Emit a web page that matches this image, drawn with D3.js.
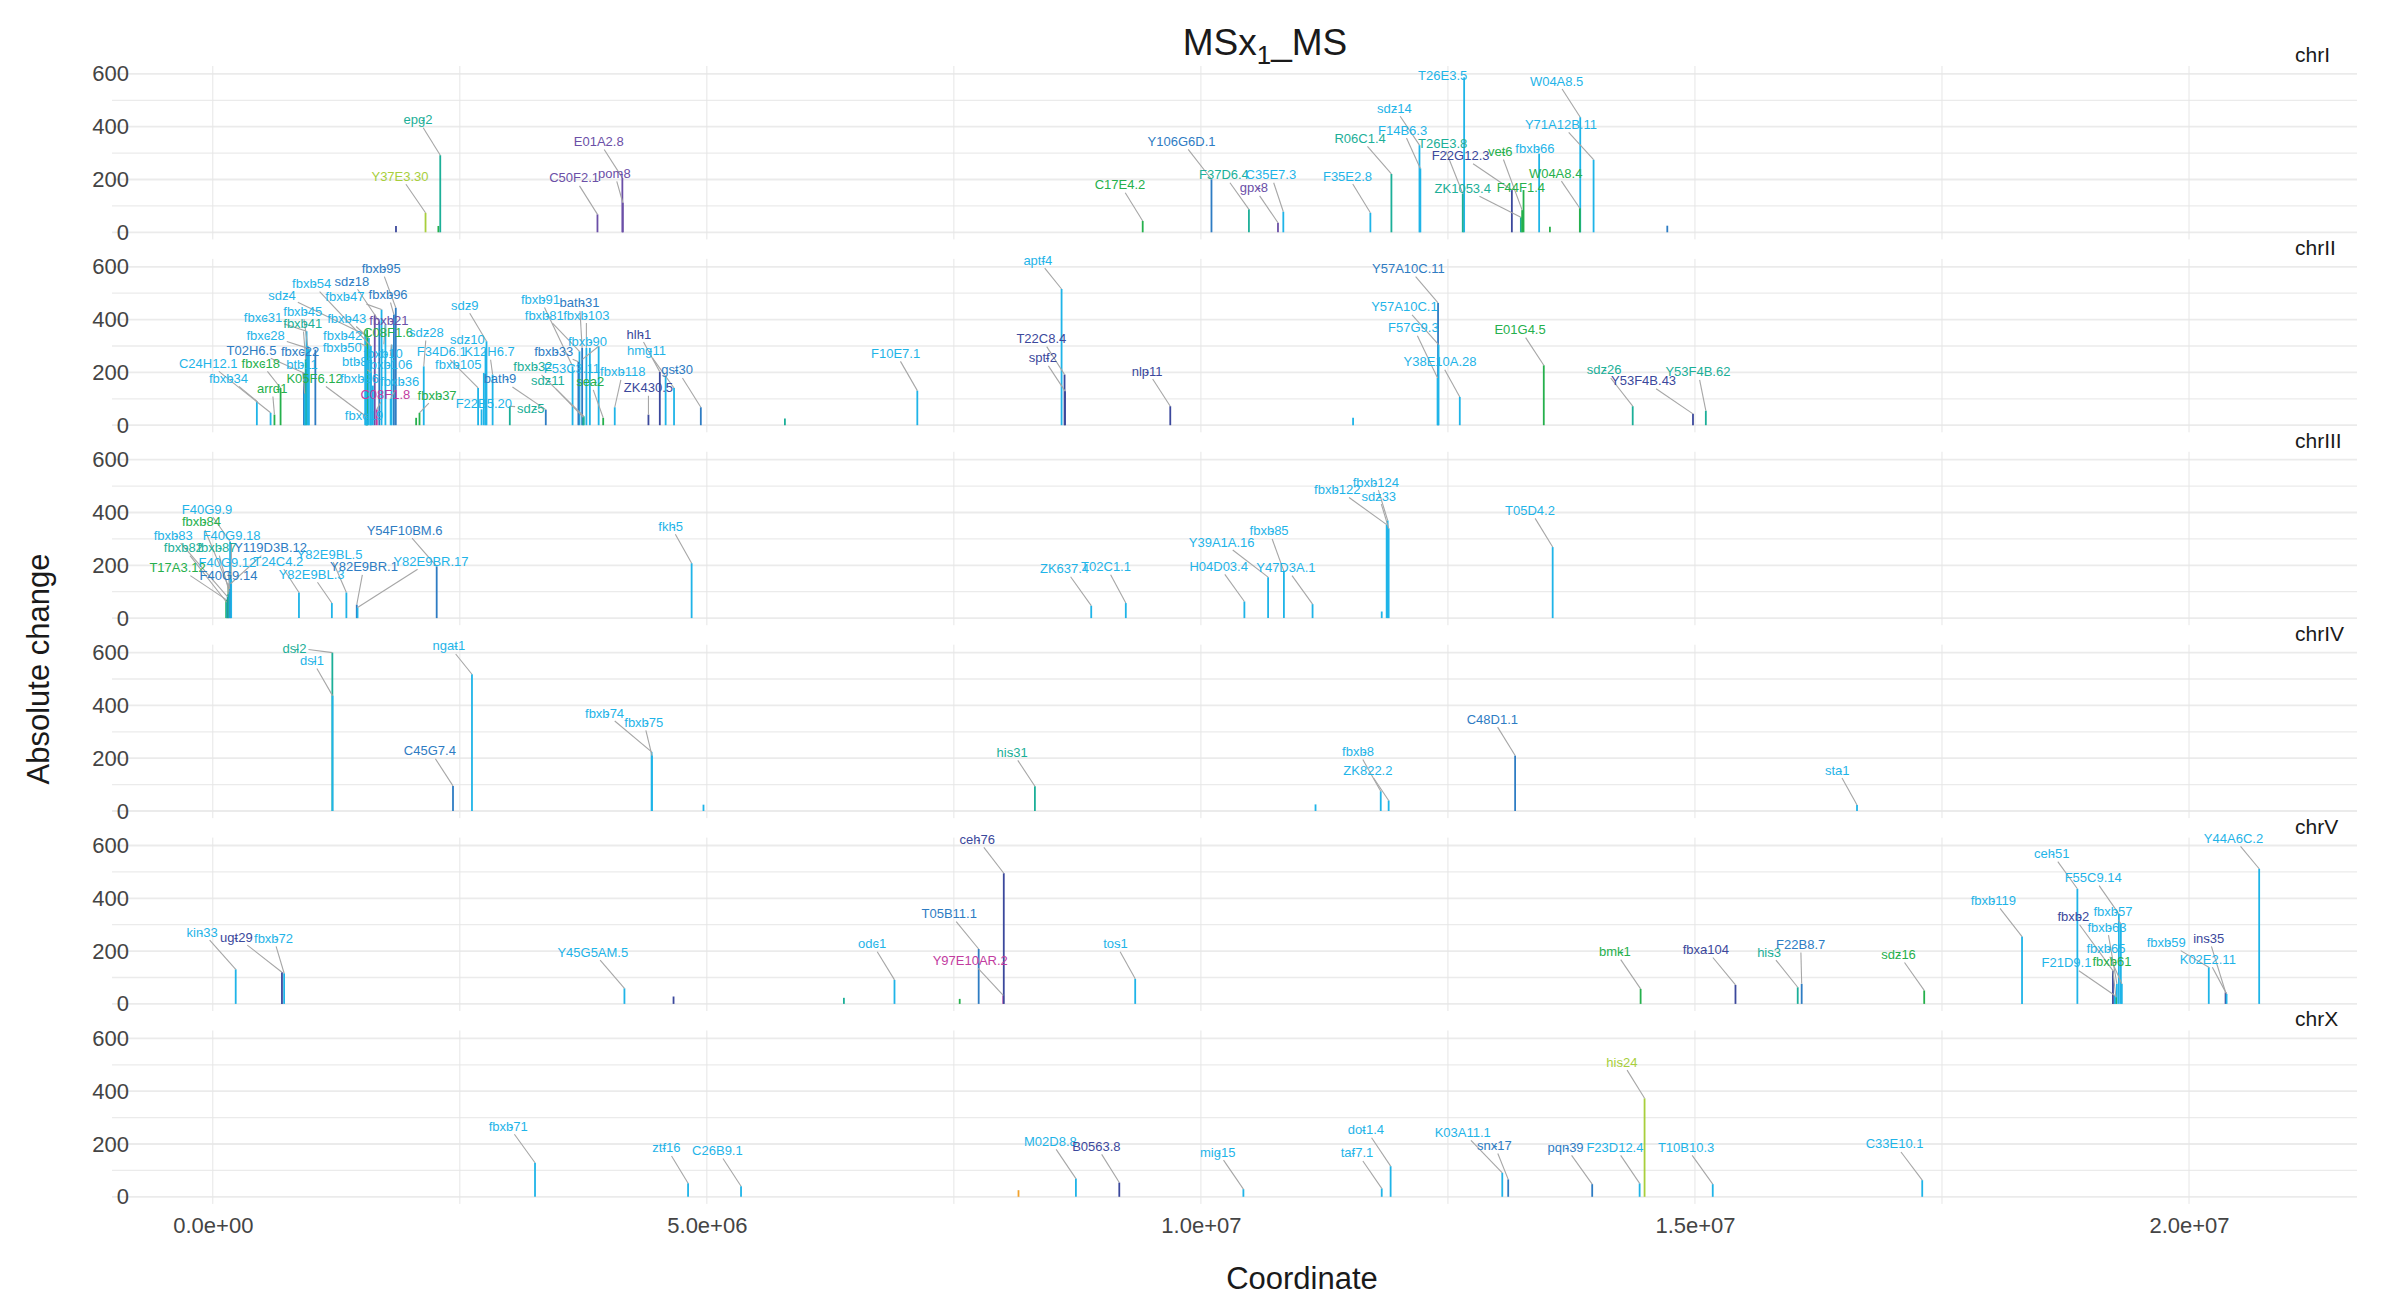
<!DOCTYPE html>
<html>
<head>
<meta charset="utf-8">
<script src="https://cdnjs.cloudflare.com/ajax/libs/d3/7.8.5/d3.min.js"></script>
<style>
    body { margin: 0; background: #fff; }
    text { font-family: "Liberation Sans", Arial, Helvetica, sans-serif; }
</style>
</head>
<body>
<div id="chart"></div>
<script>

    // rows: [gene, coordinate, absolute change, colour group]
    // label rows: [label coordinate, label change] or null (unlabelled)
    var chromosomes = ["chrI", "chrII", "chrIII", "chrIV", "chrV", "chrX"];
    var yTicks = [0, 200, 400, 600];
    var xTicks = [0, 5e6, 1e7, 1.5e7, 2e7];

    var chrI = [
        ["", 1854000, 24, "n"], ["Y37E3.30", 2153000, 74, "y"], ["", 2283000, 24, "g"],
        ["epg-2", 2302000, 292, "t"], ["C50F2.1", 3893000, 68, "p"], ["E01A2.8", 4145000, 206, "p"],
        ["pom-8", 4150000, 112, "p"], ["C17E4.2", 9411000, 43, "g"], ["Y106G6D.1", 10107000, 201, "b"],
        ["F37D6.4", 10486000, 87, "t"], ["gpx-8", 10780000, 36, "p"], ["C35E7.3", 10834000, 78, "c"],
        ["F35E2.8", 11715000, 74, "c"], ["R06C1.4", 11928000, 221, "t"], ["sdz-14", 12212000, 330, "c"],
        ["F14B6.3", 12221000, 242, "c"], ["T26E3.5", 12664000, 587, "c"], ["T26E3.8", 12650000, 147, "t"],
        ["F22G12.3", 13147000, 160, "n"], ["ZK1053.4", 13238000, 57, "t"], ["vet-6", 13251000, 84, "g"],
        ["F44F1.4", 13265000, 160, "g"], ["fbxb-66", 13423000, 298, "c"], ["", 13532000, 21, "g"],
        ["W04A8.5", 13839000, 436, "c"], ["W04A8.4", 13835000, 91, "g"], ["Y71A12B.11", 13974000, 275, "c"],
        ["", 14720000, 25, "b"]
    ];
    var chrI_labels = [
        null, [1895000, 214], null,
        [2076000, 428], [3657000, 208], [3906000, 346],
        [4064000, 225], [9181000, 182], [9804000, 346],
        [10233000, 220], [10536000, 170], [10708000, 220],
        [11484000, 215], [11611000, 358], [11959000, 472],
        [12041000, 389], [12447000, 596], [12447000, 338],
        [12628000, 292], [12650000, 169], [13030000, 308],
        [13238000, 172], [13380000, 319], null,
        [13600000, 575], [13590000, 226], [13644000, 411],
        null
    ];

    var chrII = [
        ["fbxb-34", 446000, 91, "c"], ["C24H12.1", 585000, 47, "c"], ["arrd-1", 624000, 40, "g"],
        ["fbxc-18", 686000, 141, "g"], ["T02H6.5", 922000, 198, "b"], ["fbxc-31", 949000, 356, "c"],
        ["fbxc-28", 973000, 290, "c"], ["fbxb-45", 960000, 300, "c"], ["fbxb-41", 940000, 250, "t"],
        ["fbxc-22", 1038000, 286, "b"], ["btb-11", 930000, 120, "c"], ["K05F6.12", 1562000, 30, "g"],
        ["sdz-4", 1542000, 343, "c"], ["fbxb-54", 1600000, 300, "c"], ["fbxb-21", 1639000, 419, "p"],
        ["sdz-18", 1685000, 393, "b"], ["fbxb-47", 1708000, 438, "c"], ["fbxb-95", 1852000, 445, "b"],
        ["fbxb-96", 1833000, 419, "b"], ["C08F1.6", 1562000, 362, "g"], ["fbxb-43", 1580000, 330, "c"],
        ["fbxb-42", 1550000, 300, "c"], ["fbxb-50", 1555000, 260, "c"], ["fbxb-10", 1747000, 381, "c"],
        ["btb-8", 1600000, 200, "c"], ["fbxb-106", 1810000, 305, "c"], ["fbxb-26", 1620000, 150, "c"],
        ["fbxb-36", 1800000, 100, "c"], ["C08F1.8", 1660000, 60, "m"], ["fbxc-19", 1560000, 20, "c"],
        ["", 2058000, 28, "g"], ["fbxb-37", 2092000, 47, "g"], ["sdz-28", 2135000, 223, "c"],
        ["F34D6.1", 2685000, 141, "c"], ["fbxb-105", 2743000, 198, "c"], ["sdz-9", 2770000, 318, "c"],
        ["sdz-10", 2760000, 290, "c"], ["K12H6.7", 2832000, 192, "c"], ["F22B5.20", 2720000, 60, "c"],
        ["sdz-5", 3006000, 72, "t"], ["bath-9", 3370000, 59, "b"], ["fbxb-91", 3641000, 223, "c"],
        ["fbxb-81", 3711000, 280, "c"], ["bath-31", 3738000, 293, "b"], ["fbxb-103", 3781000, 293, "c"],
        ["fbxb-90", 3816000, 293, "c"], ["fbxb-33", 3700000, 240, "b"], ["fbxb-32", 3754000, 34, "t"],
        ["F53C3.11", 3905000, 299, "c"], ["sdz-11", 3750000, 30, "t"], ["sea-2", 3951000, 28, "g"],
        ["fbxb-118", 4068000, 68, "c"], ["ZK430.5", 4409000, 40, "n"], ["hlh-1", 4524000, 202, "n"],
        ["", 4583000, 185, "c"], ["hmg-11", 4668000, 141, "c"], ["gst-30", 4939000, 68, "b"],
        ["", 5790000, 25, "t"], ["F10E7.1", 7130000, 131, "c"], ["aptf-4", 8590000, 516, "c"],
        ["T22C8.4", 8620000, 192, "n"], ["sptf-2", 8625000, 129, "n"], ["nlp-11", 9690000, 72, "n"],
        ["", 11540000, 28, "c"], ["Y57A10C.11", 12400000, 463, "b"], ["Y57A10C.1", 12405000, 305, "c"],
        ["F57G9.3", 12395000, 179, "c"], ["Y38E10A.28", 12620000, 107, "c"], ["E01G4.5", 13470000, 227, "g"],
        ["sdz-26", 14370000, 72, "t"], ["Y53F4B.43", 14980000, 43, "n"], ["Y53F4B.62", 15110000, 55, "t"]
    ];
    var chrII_labels = [
        [159000, 179], [-46000, 236], [601000, 141],
        [485000, 236], [392000, 286], [508000, 410],
        [535000, 343], [911000, 434], [911000, 387],
        [884000, 280], [903000, 232], [1030000, 179],
        [701000, 494], [1000000, 538], [1782000, 400],
        [1407000, 547], [1337000, 488], [1705000, 595],
        [1774000, 497], [1774000, 353], [1356000, 406],
        [1314000, 343], [1310000, 296], [1724000, 274],
        [1437000, 242], [1786000, 230], [1484000, 177],
        [1891000, 166], [1747000, 119], [1530000, 37],
        null, [2270000, 116], [2162000, 353],
        [2317000, 280], [2484000, 230], [2549000, 456],
        [2576000, 328], [2800000, 280], [2743000, 84],
        [3219000, 66], [2906000, 177], [3316000, 478],
        [3355000, 419], [3711000, 465], [3781000, 419],
        [3792000, 320], [3451000, 282], [3239000, 223],
        [3634000, 217], [3390000, 170], [3820000, 166],
        [4149000, 204], [4409000, 144], [4312000, 347],
        null, [4389000, 286], [4699000, 211],
        null, [6910000, 274], [8350000, 627],
        [8385000, 330], [8400000, 257], [9456000, 207],
        null, [12100000, 595], [12060000, 450],
        [12150000, 371], [12420000, 242], [13230000, 364],
        [14080000, 211], [14480000, 170], [15030000, 204]
    ];

    var chrIII = [
        ["T17A3.12", 136000, 70, "g"], ["fbxb-82", 140000, 60, "t"], ["fbxb-83", 150000, 80, "c"],
        ["F40G9.14", 155000, 90, "b"], ["fbxb-84", 159000, 120, "g"], ["fbxb-87", 165000, 100, "t"],
        ["F40G9.12", 170000, 110, "c"], ["F40G9.9", 175000, 290, "c"], ["Y119D3B.12", 180000, 130, "b"],
        ["F40G9.18", 186000, 150, "c"], ["T24C4.2", 872000, 97, "c"], ["Y82E9BL.3", 1205000, 57, "c"],
        ["Y82E9BL.5", 1352000, 97, "c"], ["Y82E9BR.1", 1457000, 51, "b"], ["Y82E9BR.17", 1465000, 40, "c"],
        ["Y54F10BM.6", 2266000, 196, "b"], ["fkh-5", 4846000, 208, "c"], ["ZK637.4", 8890000, 47, "c"],
        ["T02C1.1", 9240000, 57, "c"], ["H04D03.4", 10440000, 63, "c"], ["Y39A1A.16", 10680000, 155, "c"],
        ["fbxb-85", 10840000, 177, "c"], ["Y47D3A.1", 11130000, 53, "c"], ["", 11830000, 25, "c"],
        ["fbxb-122", 11880000, 354, "c"], ["fbxb-124", 11890000, 370, "c"], ["sdz-33", 11900000, 340, "c"],
        ["T05D4.2", 13560000, 269, "c"]
    ];
    var chrIII_labels = [
        [-356000, 193], [-298000, 269], [-400000, 316],
        [159000, 164], [-115000, 366], [43000, 269],
        [148000, 211], [-58000, 414], [585000, 269],
        [190000, 316], [663000, 217], [1000000, 168],
        [1182000, 244], [1530000, 196], [2208000, 217],
        [1941000, 335], [4633000, 350], [8620000, 189],
        [9040000, 196], [10180000, 198], [10210000, 290],
        [10690000, 332], [10860000, 193], null,
        [11380000, 489], [11770000, 517], [11800000, 464],
        [13330000, 410]
    ];

    var chrIV = [
        ["dsl-2", 1210000, 600, "t"], ["dsl-1", 1212000, 437, "c"], ["C45G7.4", 2431000, 95, "b"],
        ["ngat-1", 2623000, 518, "c"], ["fbxb-74", 4441000, 224, "c"], ["fbxb-75", 4445000, 210, "c"],
        ["", 4966000, 24, "c"], ["his-31", 8320000, 94, "t"], ["", 11160000, 25, "c"],
        ["fbxb-8", 11820000, 75, "c"], ["ZK822.2", 11900000, 40, "c"], ["C48D1.1", 13180000, 210, "b"],
        ["sta-1", 16640000, 23, "c"]
    ];
    var chrIV_labels = [
        [827000, 619], [1004000, 572], [2197000, 230],
        [2389000, 627], [3965000, 373], [4362000, 338],
        null, [8090000, 224], null,
        [11590000, 227], [11690000, 157], [12950000, 350],
        [16440000, 157]
    ];

    var chrV = [
        ["kin-33", 232000, 131, "c"], ["ugt-29", 700000, 120, "n"], ["fbxb-72", 722000, 116, "c"],
        ["Y45G5AM.5", 4166000, 59, "c"], ["", 4663000, 28, "n"], ["", 6387000, 23, "t"],
        ["odc-1", 6899000, 91, "c"], ["", 7559000, 19, "g"], ["T05B11.1", 7751000, 208, "b"],
        ["Y97E10AR.2", 8000000, 32, "m"], ["ceh-76", 8005000, 495, "n"], ["tos-1", 9335000, 95, "c"],
        ["bmk-1", 14450000, 57, "g"], ["fbxa-104", 15410000, 72, "n"], ["his-3", 16040000, 63, "t"],
        ["F22B8.7", 16080000, 76, "b"], ["sdz-16", 17320000, 51, "g"], ["fbxb-119", 18310000, 255, "c"],
        ["ceh-51", 18870000, 436, "c"], ["F55C9.14", 19290000, 341, "c"], ["fbxb-57", 19310000, 303, "c"],
        ["fbxb-63", 19270000, 76, "c"], ["fbxb-65", 19320000, 76, "c"], ["fbxb-61", 19260000, 25, "g"],
        ["fbxb-2", 19230000, 126, "n"], ["F21D9.1", 19250000, 32, "c"], ["fbxb-59", 20200000, 139, "c"],
        ["ins-35", 20370000, 44, "n"], ["K02E2.11", 20380000, 38, "c"], ["Y44A6C.2", 20710000, 512, "c"]
    ];
    var chrV_labels = [
        [-108000, 274], [239000, 255], [615000, 250],
        [3846000, 198], null, null,
        [6672000, 230], null, [7453000, 344],
        [7666000, 167], [7737000, 625], [9135000, 230],
        [14190000, 200], [15110000, 208], [15750000, 198],
        [16070000, 227], [17060000, 189], [18020000, 394],
        [18610000, 571], [19030000, 480], [19230000, 351],
        [19170000, 293], [19160000, 211], [19220000, 162],
        [18830000, 332], [18760000, 158], [19770000, 234],
        [20200000, 250], [20190000, 171], [20450000, 629]
    ];

    var chrX = [
        ["fbxb-71", 3261000, 129, "c"], ["ztf-16", 4810000, 51, "c"], ["C26B9.1", 5346000, 40, "c"],
        ["", 8154000, 25, "o"], ["M02D8.8", 8735000, 69, "c"], ["B0563.8", 9174000, 54, "n"],
        ["mig-15", 10430000, 29, "c"], ["taf-7.1", 11830000, 32, "c"], ["dot-1.4", 11920000, 116, "c"],
        ["K03A11.1", 13050000, 91, "c"], ["snx-17", 13110000, 66, "b"], ["pqn-39", 13960000, 48, "b"],
        ["F23D12.4", 14440000, 51, "c"], ["his-24", 14490000, 373, "y"], ["T10B10.3", 15180000, 48, "c"],
        ["C33E10.1", 17300000, 63, "c"]
    ];
    var chrX_labels = [
        [2990000, 269], [4591000, 187], [5107000, 177],
        null, [8477000, 212], [8942000, 193],
        [10170000, 171], [11580000, 168], [11670000, 256],
        [12650000, 246], [12970000, 196], [13690000, 189],
        [14190000, 189], [14260000, 512], [14910000, 189],
        [17020000, 202]
    ];

    var panelRows = [chrI, chrII, chrIII, chrIV, chrV, chrX];
    var panelLabels = [chrI_labels, chrII_labels, chrIII_labels, chrIV_labels, chrV_labels, chrX_labels];

    var colour = {
        c: "#1fb4e8", b: "#2e7cc3", n: "#3b489c", p: "#6b4fa7", t: "#1caf98",
        g: "#25b04c", y: "#a8cf3c", m: "#c23c9f", o: "#f2a22c"
    };

    var width = 2385, height = 1301;
    var firstZero = 232.3, panelStep = 192.9, span600 = 158.4;

    var xScale = d3.scaleLinear()
        .domain([-1.02e6, 2.17e7])
        .range([112, 2357]);

    function yScaleFor(i) {
        var zero = firstZero + panelStep * i;
        return d3.scaleLinear().domain([0, 600]).range([zero, zero - span600]);
    }

    // R style scientific labels: 5.0e+06
    function sci(d) {
        return d3.format(".1e")(d).replace(/e([+-])(\d)$/, "e$10$2");
    }

    var svg = d3.select("#chart").append("svg")
        .attr("width", width)
        .attr("height", height)
        .style("display", "block");

    svg.append("rect").attr("width", width).attr("height", height).attr("fill", "#fff");

    panelRows.forEach(function(rows, i) {
        var y = yScaleFor(i);
        var labels = panelLabels[i];
        var g = svg.append("g");

        // grid
        g.selectAll("line.h").data(d3.range(0, 601, 100)).enter().append("line")
            .attr("x1", xScale.range()[0]).attr("x2", xScale.range()[1])
            .attr("y1", function(d) { return y(d); }).attr("y2", function(d) { return y(d); })
            .attr("stroke", "#ebebeb")
            .attr("stroke-width", function(d) { return d % 200 === 0 ? 1.8 : 1.3; });

        g.selectAll("line.v").data(d3.range(0, 2.01e7, 2.5e6)).enter().append("line")
            .attr("x1", function(d) { return xScale(d); }).attr("x2", function(d) { return xScale(d); })
            .attr("y1", y(-27)).attr("y2", y(630))
            .attr("stroke", "#e6e6e6")
            .attr("stroke-width", 1);

        // y axis
        var ya = g.append("g")
            .attr("transform", "translate(129,0)")
            .call(d3.axisLeft(y).tickValues(yTicks).tickSize(0).tickPadding(0));
        ya.select(".domain").remove();
        ya.selectAll("text")
            .attr("font-size", 22)
            .attr("fill", "#444")
            .attr("font-family", "Liberation Sans, Arial, sans-serif");

        // strip
        g.append("text")
            .attr("x", 2295).attr("y", y(600) - 12)
            .attr("font-size", 21)
            .attr("fill", "#1a1a1a")
            .text(chromosomes[i]);

        // bars
        g.selectAll("line.bar").data(rows).enter().append("line")
            .attr("x1", function(d) { return xScale(d[1]); })
            .attr("x2", function(d) { return xScale(d[1]); })
            .attr("y1", y(0))
            .attr("y2", function(d) { return y(d[2]); })
            .attr("stroke", function(d) { return colour[d[3]]; })
            .attr("stroke-width", 1.8);

        var leaderG = g.append("g");
        var labelG = g.append("g");

        var items = rows.map(function(d, k) { return { row: d, at: labels[k] }; })
            .filter(function(e) { return e.at && e.row[0]; });

        var texts = labelG.selectAll("text").data(items).enter().append("text")
            .attr("x", function(e) { return xScale(e.at[0]); })
            .attr("y", function(e) { return y(e.at[1]); })
            .attr("text-anchor", "middle")
            .attr("dominant-baseline", "central")
            .attr("font-size", 13)
            .attr("fill", function(e) { return colour[e.row[3]]; });

        // the reference draws each hyphen on top of the previous glyph
        texts.each(function(e) {
            var t = d3.select(this);
            e.row[0].split("-").forEach(function(part, k) {
                if (k > 0) t.append("tspan").attr("dx", "-0.333em").text("-");
                t.append("tspan").text(part);
            });
        });

        texts.each(function(e) {
            var bb = this.getBBox();
            var cx = bb.x + bb.width / 2, cy = bb.y + bb.height / 2;
            var tx = xScale(e.row[1]), ty = y(e.row[2]);
            var dx = tx - cx, dy = ty - cy;
            var hw = bb.width / 2 + 2, hh = bb.height / 2 + 1;
            var t = Math.min(dx ? hw / Math.abs(dx) : Infinity, dy ? hh / Math.abs(dy) : Infinity);
            if (t >= 1) return;
            var sx = cx + t * dx, sy = cy + t * dy;
            if (Math.hypot(tx - sx, ty - sy) < 4) return;
            leaderG.append("line")
                .attr("x1", sx).attr("y1", sy)
                .attr("x2", tx).attr("y2", ty)
                .attr("stroke", "#a6a6a6")
                .attr("stroke-width", 1.1);
        });
    });

    // x axis
    var xa = svg.append("g")
        .attr("transform", "translate(0,1200)")
        .call(d3.axisBottom(xScale).tickValues(xTicks).tickFormat(sci).tickSize(0).tickPadding(17));
    xa.select(".domain").remove();
    xa.selectAll("text")
        .attr("font-size", 22)
        .attr("fill", "#444")
        .attr("font-family", "Liberation Sans, Arial, sans-serif");

    // titles
    var title = svg.append("text")
        .attr("x", 1265).attr("y", 55)
        .attr("text-anchor", "middle")
        .attr("font-size", 37)
        .attr("fill", "#1a1a1a");
    title.append("tspan").text("MSx");
    title.append("tspan").attr("font-size", 26).attr("dy", 9).text("1");
    title.append("tspan").attr("dy", -9).text("_MS");

    svg.append("text")
        .attr("x", 1302).attr("y", 1289)
        .attr("text-anchor", "middle")
        .attr("font-size", 31)
        .attr("fill", "#1a1a1a")
        .text("Coordinate");

    svg.append("text")
        .attr("transform", "translate(49,669) rotate(-90)")
        .attr("text-anchor", "middle")
        .attr("font-size", 31)
        .attr("fill", "#1a1a1a")
        .text("Absolute change");

</script>
</body>
</html>
